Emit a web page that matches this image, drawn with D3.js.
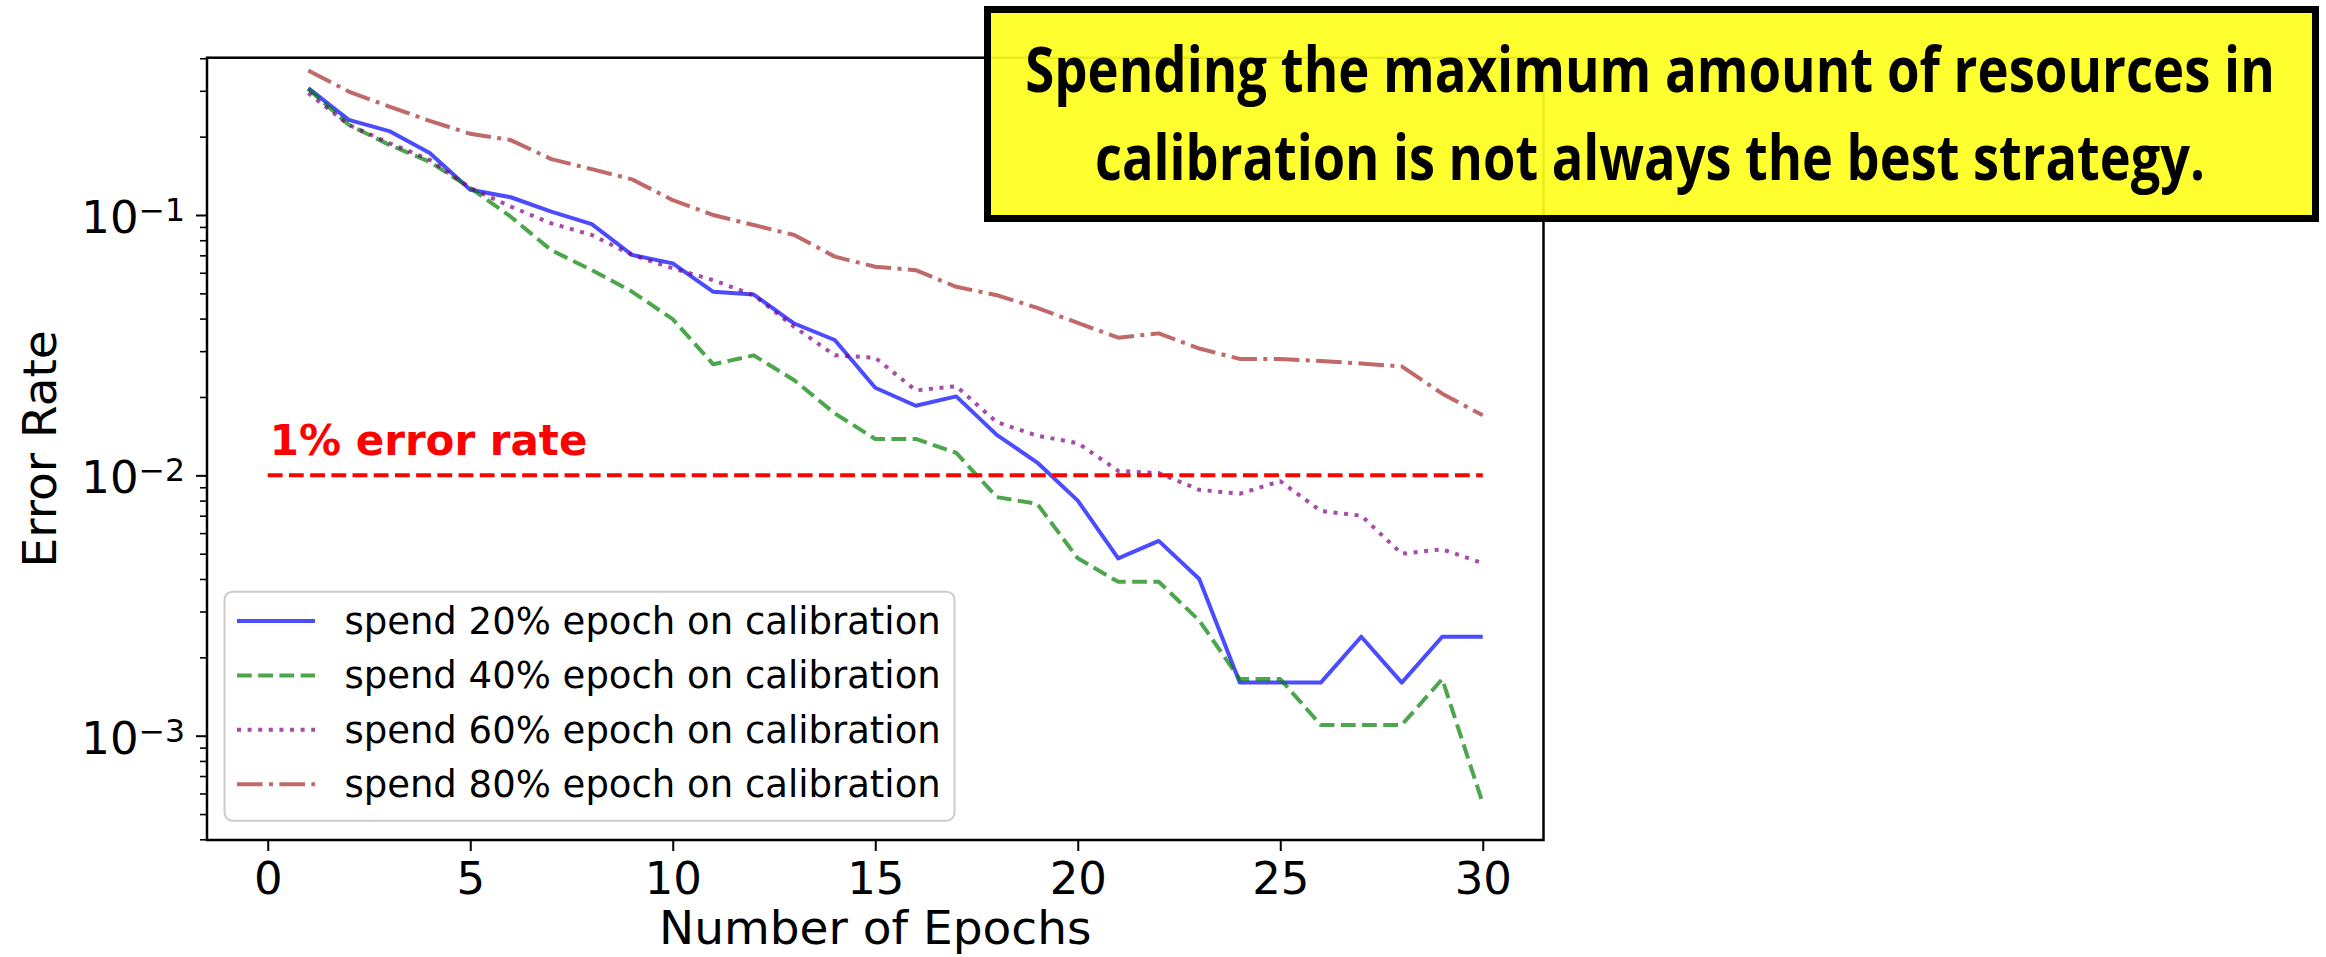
<!DOCTYPE html>
<html>
<head>
<meta charset="utf-8">
<script src="https://cdn.jsdelivr.net/npm/d3@7"></script>
<style>
  body { margin: 0; background: #fff; }
  svg { display: block; }
</style>
</head>
<body>
<div id="chart"></div>
<script>
// values (error rate per epoch)
const epochs = [1, 2, 3, 4, 5, 6, 7, 8, 9, 10, 11, 12, 13, 14, 15,
                16, 17, 18, 19, 20, 21, 22, 23, 24, 25, 26, 27, 28, 29, 30];
const err20 = [0.307, 0.232, 0.210, 0.173, 0.125, 0.117, 0.103, 0.0923, 0.0702, 0.0652,
               0.0507, 0.0495, 0.0383, 0.0331, 0.0217, 0.0185, 0.0201, 0.0143, 0.0112, 0.0080,
               0.0048, 0.0056, 0.0040, 0.0016, 0.0016, 0.0016, 0.0024, 0.0016, 0.0024, 0.0024];
const err40 = [0.305, 0.222, 0.186, 0.160, 0.127, 0.0985, 0.0733, 0.0614, 0.0507, 0.0398,
               0.0267, 0.0289, 0.0232, 0.0173, 0.0138, 0.0138, 0.0122, 0.00825, 0.00777, 0.0048,
               0.0039, 0.0039, 0.00277, 0.00165, 0.00165, 0.0011, 0.0011, 0.0011, 0.00165, 0.00055];
const err60 = [0.294, 0.222, 0.189, 0.163, 0.127, 0.1077, 0.0929, 0.0838, 0.0702, 0.0624,
               0.0562, 0.0492, 0.0372, 0.0289, 0.0283, 0.0212, 0.0220, 0.0160, 0.0142, 0.0133,
               0.0104, 0.0102, 0.0088, 0.0085, 0.0095, 0.0073, 0.0070, 0.0050, 0.0052, 0.0046];
const err80 = [0.359, 0.298, 0.261, 0.230, 0.205, 0.194, 0.164, 0.150, 0.137, 0.114,
               0.100, 0.0915, 0.0838, 0.0692, 0.0633, 0.0614, 0.0530, 0.0492, 0.0440, 0.0385,
               0.0338, 0.0351, 0.0307, 0.0280, 0.0280, 0.0275, 0.0269, 0.0262, 0.0206, 0.0170];
const seriesNames = ["spend 20% epoch on calibration", "spend 40% epoch on calibration",
                     "spend 60% epoch on calibration", "spend 80% epoch on calibration"];
const xTicks = [0, 5, 10, 15, 20, 25, 30];
const yTicks = [1e-3, 1e-2, 1e-1];
const yTickExp = ["\u22123", "\u22122", "\u22121"];
const targetRate = 0.01;
const targetLabel = "1% error rate";
const noteLines = ["Spending the maximum amount of resources in",
                   "calibration is not always the best strategy."];

const width = 2326, height = 957;
const plot = {left: 207, right: 1543.5, top: 57.7, bottom: 840};
const mono = "'DejaVu Sans', sans-serif";

const svg = d3.select("#chart")
  .append("svg")
  .attr("width", width)
  .attr("height", height);

svg.append("rect")
  .attr("width", width)
  .attr("height", height)
  .attr("fill", "#fff");

const xScale = d3.scaleLinear()
  .domain([-1.5, 31.5])
  .range([plot.left, plot.right]);

const yScale = d3.scaleLog()
  .domain([Math.pow(10, -3.4006), Math.pow(10, -0.3958)])
  .range([plot.bottom, plot.top]);

// minor ticks 2..9 x 10^k inside the domain
const [yMin, yMax] = yScale.domain();
const minorTicks = [];
for (let k = -4; k <= 0; k++) {
  for (let m = 2; m <= 9; m++) {
    const v = m * Math.pow(10, k);
    if (v >= yMin && v <= yMax) minorTicks.push(v);
  }
}

// x axis
const xAxis = svg.append("g")
  .attr("transform", `translate(0,${plot.bottom})`)
  .call(d3.axisBottom(xScale).tickValues(xTicks).tickSize(11).tickPadding(11));
xAxis.select(".domain").remove();
xAxis.selectAll("line").attr("stroke", "#000").attr("stroke-width", 2);
xAxis.selectAll("text")
  .attr("font-family", mono)
  .attr("font-size", 45)
  .attr("fill", "#000");

// y axis, major and minor ticks
const yAxis = svg.append("g")
  .attr("transform", `translate(${plot.left},0)`)
  .call(d3.axisLeft(yScale).tickValues(yTicks).tickSize(11).tickFormat(""));
yAxis.select(".domain").remove();
yAxis.selectAll("line").attr("stroke", "#000").attr("stroke-width", 2);

const yMinor = svg.append("g")
  .attr("transform", `translate(${plot.left},0)`)
  .call(d3.axisLeft(yScale).tickValues(minorTicks).tickSize(7).tickFormat(""));
yMinor.select(".domain").remove();
yMinor.selectAll("line").attr("stroke", "#000").attr("stroke-width", 1.6);

const yLabels = svg.append("g")
  .selectAll("text")
  .data(yTicks)
  .join("text")
  .attr("x", plot.left - 22)
  .attr("y", d => yScale(d) + 18)
  .attr("text-anchor", "end")
  .attr("font-family", mono)
  .attr("font-size", 45)
  .attr("fill", "#000");
yLabels.append("tspan").text("10");
yLabels.append("tspan")
  .attr("dy", -12)
  .attr("font-size", 31.5)
  .text((d, i) => yTickExp[i]);

// axis titles
svg.append("text")
  .attr("x", (plot.left + plot.right) / 2)
  .attr("y", 944)
  .attr("text-anchor", "middle")
  .attr("font-family", mono)
  .attr("font-size", 47)
  .attr("fill", "#000")
  .text("Number of Epochs");

svg.append("text")
  .attr("transform", `translate(56,${(plot.top + plot.bottom) / 2}) rotate(-90)`)
  .attr("text-anchor", "middle")
  .attr("font-family", mono)
  .attr("font-size", 47)
  .attr("fill", "#000")
  .text("Error Rate");

// series
const series = [
  {name: seriesNames[0], values: err20, color: "#0000ff", dash: null},
  {name: seriesNames[1], values: err40, color: "#008000", dash: "14.8,6.4"},
  {name: seriesNames[2], values: err60, color: "#800080", dash: "4,6.6"},
  {name: seriesNames[3], values: err80, color: "#a52a2a", dash: "25.6,6.4,4,6.4"}
];

const line = d3.line()
  .x(d => xScale(d.epoch))
  .y(d => yScale(d.value));

svg.append("g")
  .selectAll("path")
  .data(series)
  .join("path")
  .attr("d", s => line(epochs.map((e, i) => ({epoch: e, value: s.values[i]}))))
  .attr("fill", "none")
  .attr("stroke", s => s.color)
  .attr("stroke-opacity", 0.7)
  .attr("stroke-width", 4)
  .attr("stroke-linejoin", "round")
  .attr("stroke-dasharray", s => s.dash);

// 1% reference line
svg.append("line")
  .attr("x1", xScale(xTicks[0]))
  .attr("x2", xScale(xTicks[xTicks.length - 1]))
  .attr("y1", yScale(targetRate))
  .attr("y2", yScale(targetRate))
  .attr("stroke", "#ff0000")
  .attr("stroke-width", 4)
  .attr("stroke-dasharray", "14.8,6.4");

svg.append("text")
  .attr("x", xScale(0) + 2)
  .attr("y", yScale(0.012))
  .attr("font-family", mono)
  .attr("font-weight", "bold")
  .attr("font-size", 42)
  .attr("fill", "#ff0000")
  .text(targetLabel);

// frame
svg.append("rect")
  .attr("x", plot.left)
  .attr("y", plot.top)
  .attr("width", plot.right - plot.left)
  .attr("height", plot.bottom - plot.top)
  .attr("fill", "none")
  .attr("stroke", "#000")
  .attr("stroke-width", 2.5);

// legend
const legend = svg.append("g");
legend.append("rect")
  .attr("x", 224.5)
  .attr("y", 591.7)
  .attr("width", 730)
  .attr("height", 229)
  .attr("rx", 8)
  .attr("fill", "#fff")
  .attr("fill-opacity", 0.8)
  .attr("stroke", "#cccccc")
  .attr("stroke-width", 2);

const entry = legend.selectAll("g.entry")
  .data(series)
  .join("g")
  .attr("class", "entry")
  .attr("transform", (d, i) => `translate(0,${621 + i * 54.4})`);

entry.append("line")
  .attr("x1", 237)
  .attr("x2", 315)
  .attr("stroke", d => d.color)
  .attr("stroke-opacity", 0.7)
  .attr("stroke-width", 4)
  .attr("stroke-dasharray", d => d.dash);

entry.append("text")
  .attr("x", 344.4)
  .attr("y", 13)
  .attr("font-family", mono)
  .attr("font-size", 37)
  .attr("fill", "#000")
  .text(d => d.name);

// callout box
svg.append("rect")
  .attr("x", 987.5)
  .attr("y", 9.5)
  .attr("width", 1328)
  .attr("height", 209)
  .attr("fill", "#ffff1e")
  .attr("fill-opacity", 0.92)
  .attr("stroke", "#000")
  .attr("stroke-width", 7);

// narrow the bold text horizontally to the width it has in the figure
const noteWidths = [1250, 1110];
const noteCenter = 1650;
svg.append("g")
  .selectAll("text")
  .data(noteLines)
  .join("text")
  .attr("text-anchor", "middle")
  .attr("font-family", "'Open Sans', sans-serif")
  .attr("font-weight", "bold")
  .attr("font-size", 62)
  .attr("fill", "#000")
  .text(d => d)
  .attr("transform", function(d, i) {
    const k = noteWidths[i] / this.getComputedTextLength();
    return `translate(${noteCenter},${92 + i * 88}) scale(${k},1)`;
  });
</script>
</body>
</html>
